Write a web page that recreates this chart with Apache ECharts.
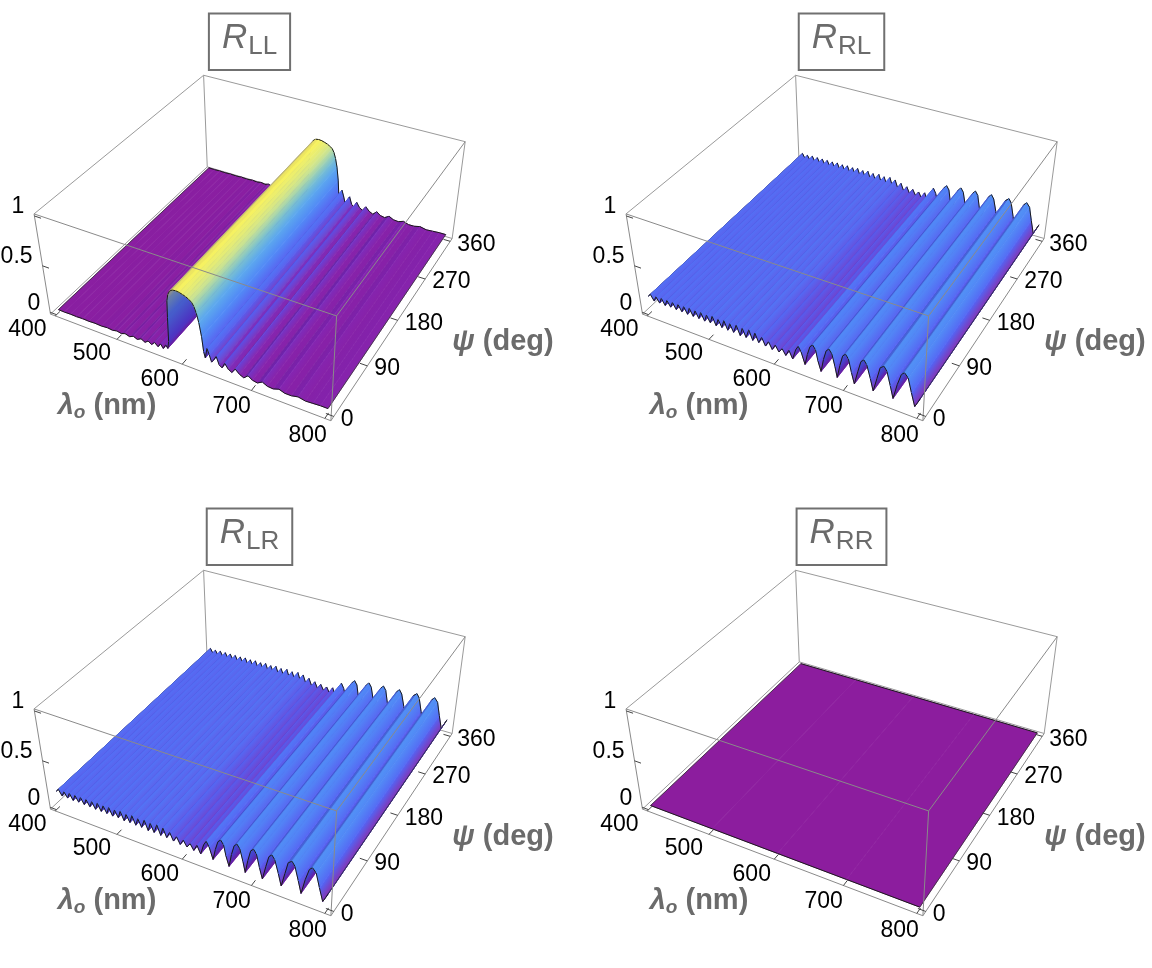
<!DOCTYPE html>
<html>
<head>
<meta charset="utf-8">
<title>Reflectance surfaces</title>
<script src="https://cdn.jsdelivr.net/npm/echarts@6.0.0/dist/echarts.min.js"></script>
<style>
html, body { margin: 0; padding: 0; background: #fff; }
#main { width: 1152px; height: 968px; }
</style>
</head>
<body>
<div id="main"></div>
<script>
// reflectance vs wavelength (every surface is flat along psi)
var llWave = [400, 410, 420, 430, 440, 450, 460, 470, 480,
    488, 495, 502, 508, 515, 521, 527, 533, 539,
    544, 549, 554, 559, 563, 567, 571, 574, 576,
    577, 578, 580, 583, 587, 592, 597, 602, 606,
    610, 614, 617, 620, 623, 626, 628, 630, 633,
    636, 639, 642, 646, 650, 654, 658, 663, 668,
    673, 679, 685, 691, 697, 704, 711, 718, 726,
    734, 742, 751, 760, 770, 780, 790, 800];
var llR = [0.012, 0.010, 0.012, 0.010, 0.013, 0.010, 0.014, 0.010, 0.016,
    0.010, 0.020, 0.010, 0.025, 0.010, 0.030, 0.012, 0.035, 0.012,
    0.040, 0.015, 0.050, 0.018, 0.060, 0.020, 0.070, 0.040, 0.120,
    0.380, 0.550, 0.620, 0.660, 0.680, 0.685, 0.680, 0.670, 0.660,
    0.645, 0.625, 0.590, 0.530, 0.440, 0.300, 0.150, 0.090, 0.200,
    0.140, 0.070, 0.100, 0.150, 0.070, 0.050, 0.110, 0.060, 0.040,
    0.090, 0.050, 0.030, 0.070, 0.040, 0.030, 0.060, 0.035, 0.030,
    0.050, 0.030, 0.030, 0.045, 0.030, 0.035, 0.040, 0.040];

var rlWave = [400, 404, 409, 413, 418, 422, 427, 431, 436, 440,
    445, 449, 454, 458, 463, 467, 472, 476, 481, 485,
    490, 494, 499, 503, 508, 512, 517, 521, 526, 530,
    535, 540, 545, 549, 554, 559, 564, 568, 573, 578,
    583, 588, 593, 598, 603, 608, 613, 618, 623, 628,
    632, 636, 641,
    645, 649, 653, 657, 660, 664,
    668, 672, 676, 680, 684, 687,
    691, 695, 699, 703, 707, 711,
    716, 720, 724, 728, 733, 737,
    742, 746, 751, 755, 760, 764,
    769, 774, 778, 783, 788, 793,
    797, 800];
var rlR = [0.16, 0.19, 0.13, 0.185, 0.13, 0.19, 0.125, 0.19, 0.13, 0.19,
    0.125, 0.19, 0.125, 0.19, 0.12, 0.195, 0.12, 0.19, 0.12, 0.195,
    0.115, 0.19, 0.12, 0.20, 0.11, 0.19, 0.115, 0.20, 0.11, 0.19,
    0.11, 0.20, 0.10, 0.19, 0.105, 0.20, 0.10, 0.19, 0.10, 0.17,
    0.09, 0.15, 0.08, 0.14, 0.08, 0.13, 0.07, 0.14, 0.06, 0.17,
    0.22, 0.17, 0.05,
    0.17, 0.26, 0.29, 0.25, 0.14, 0.04,
    0.18, 0.28, 0.31, 0.27, 0.15, 0.04,
    0.18, 0.29, 0.32, 0.28, 0.15, 0.04,
    0.19, 0.30, 0.33, 0.29, 0.16, 0.04,
    0.19, 0.31, 0.34, 0.30, 0.16, 0.04,
    0.20, 0.32, 0.35, 0.31, 0.17, 0.04,
    0.10, 0.15];

// LR reads the same as RL
var lrWave = rlWave;
var lrR = rlR;

var rrWave = [400, 500, 600, 700, 800];
var rrR = [0.002, 0.002, 0.002, 0.002, 0.002];

var panelSubs = ['LL', 'RL', 'LR', 'RR'];
var waveTicks = [400, 500, 600, 700, 800];
var psiTicks = [0, 90, 180, 270, 360];
var rTicks = [0, 0.5, 1];
var rTickText = ['0', '0.5', '1'];

// box ranges (2% padding round the data)
var waveRange = [392, 808];
var psiRange = [-7.2, 367.2];
var rRange = [-0.02, 1.02];

// ---------- camera: fit a perspective projection to the box of the first panel ----------
var offs = [[0, 0], [592, 0], [0, 495], [592, 495]];
var fitPts = [
    [0, 0, 0, 49.7, 313.3], [1, 0, 0, 329.7, 420], [1, 1, 0, 453, 237.5], [0, 1, 0, 206.7, 168],
    [0, 0, 1, 34, 213.3], [1, 0, 1, 337, 317], [1, 1, 1, 464.5, 141.7], [0, 1, 1, 204, 75],
    [0.2596, 0, 0, 118, 339.3], [0.5, 0, 0, 183, 364.3], [0.7404, 0, 0, 251.3, 391.7]
];

function solveLinear(M, v) {
    var n = v.length;
    var a = M.map(function (row, i) { return row.concat([v[i]]); });
    for (var c = 0; c < n; c++) {
        var p = c;
        for (var r = c + 1; r < n; r++) {
            if (Math.abs(a[r][c]) > Math.abs(a[p][c])) p = r;
        }
        var tmp = a[c]; a[c] = a[p]; a[p] = tmp;
        for (var r2 = 0; r2 < n; r2++) {
            if (r2 === c) continue;
            var f = a[r2][c] / a[c][c];
            for (var k = c; k <= n; k++) a[r2][k] -= f * a[c][k];
        }
    }
    return a.map(function (row, i) { return row[n] / row[i]; });
}

var P = (function () {
    var A = [], rhs = [];
    fitPts.forEach(function (q) {
        var X = q[0], Y = q[1], Z = q[2], x = q[3], y = q[4];
        A.push([X, Y, Z, 1, 0, 0, 0, 0, -x * X, -x * Y, -x * Z]); rhs.push(x);
        A.push([0, 0, 0, 0, X, Y, Z, 1, -y * X, -y * Y, -y * Z]); rhs.push(y);
    });
    var M = [], v = [];
    for (var j = 0; j < 11; j++) {
        M.push([]);
        var s = 0;
        for (var i = 0; i < A.length; i++) s += A[i][j] * rhs[i];
        v.push(s);
        for (var k = 0; k < 11; k++) {
            var t = 0;
            for (var i2 = 0; i2 < A.length; i2++) t += A[i2][j] * A[i2][k];
            M[j].push(t);
        }
    }
    return solveLinear(M, v);
})();

function project(panel, lam, psi, r) {
    var X = (lam - waveRange[0]) / (waveRange[1] - waveRange[0]);
    var Y = (psi - psiRange[0]) / (psiRange[1] - psiRange[0]);
    var Z = (r - rRange[0]) / (rRange[1] - rRange[0]);
    var w = P[8] * X + P[9] * Y + P[10] * Z + 1;
    return [
        (P[0] * X + P[1] * Y + P[2] * Z + P[3]) / w + offs[panel][0],
        (P[4] * X + P[5] * Y + P[6] * Z + P[7]) / w + offs[panel][1]
    ];
}

// ---------- colours ----------
var cmapStops = [[0, '#8c1d9d'], [0.05, '#8424b0'], [0.10, '#6040dc'], [0.16, '#4f54f0'],
    [0.22, '#4b66f4'], [0.30, '#4a7cf4'], [0.38, '#4e90f2'], [0.48, '#5eaee4'],
    [0.55, '#84c6bc'], [0.60, '#b4dc98'], [0.64, '#e0ec7c'], [0.685, '#fcf45a']];

function hexRgb(h) {
    return [parseInt(h.substr(1, 2), 16), parseInt(h.substr(3, 2), 16), parseInt(h.substr(5, 2), 16)];
}
function mix(a, b, t) {
    return [a[0] + (b[0] - a[0]) * t, a[1] + (b[1] - a[1]) * t, a[2] + (b[2] - a[2]) * t];
}
function rgbStr(c) {
    return 'rgb(' + Math.round(c[0]) + ',' + Math.round(c[1]) + ',' + Math.round(c[2]) + ')';
}
function cmap(z) {
    if (z <= cmapStops[0][0]) return hexRgb(cmapStops[0][1]);
    for (var i = 1; i < cmapStops.length; i++) {
        if (z <= cmapStops[i][0]) {
            var t = (z - cmapStops[i - 1][0]) / (cmapStops[i][0] - cmapStops[i - 1][0]);
            return mix(hexRgb(cmapStops[i - 1][1]), hexRgb(cmapStops[i][1]), t);
        }
    }
    return hexRgb(cmapStops[cmapStops.length - 1][1]);
}
function shade(c, t, z) {
    // t > 0: face rising with wavelength (turned away from the viewer), t < 0: facing the viewer
    if (t > 0) return mix(c, [56, 26, 150], 0.42 * t);
    var k = Math.max(0, Math.min(1, (z - 0.03) / 0.12));
    return mix(c, [110, 186, 255], 0.22 * (-t) * k);
}

// ---------- series ----------
function surfaceSeries(panel, wave, R) {
    var data = [];
    for (var i = 0; i < wave.length - 1; i++) {
        data.push([wave[i], wave[i + 1], R[i], R[i + 1], i]);
    }
    var last = wave.length - 2;
    return {
        type: 'custom',
        coordinateSystem: 'none',
        silent: true,
        z: 2,
        clip: false,
        data: data,
        renderItem: function (params, api) {
            var l0 = api.value(0), l1 = api.value(1), r0 = api.value(2), r1 = api.value(3), idx = api.value(4);
            var a = project(panel, l0, 0, r0), b = project(panel, l1, 0, r1);
            var c = project(panel, l1, 360, r1), d = project(panel, l0, 360, r0);
            var m0 = project(panel, l0, 180, r0), m1 = project(panel, l1, 180, r1);
            var g = ((r1 - r0) / (rRange[1] - rRange[0]) * 0.4) / ((l1 - l0) / (waveRange[1] - waveRange[0]));
            var t = g / Math.sqrt(1 + g * g);
            var zm = (r0 + r1) / 2;
            var s0 = shade(cmap(r0), t, zm), s1 = shade(cmap(r1), t, zm);
            // gradient runs across the strip, so its colour bands stay parallel to the psi direction
            var ex = (d[0] - a[0] + c[0] - b[0]) / 2, ey = (d[1] - a[1] + c[1] - b[1]) / 2;
            var el = Math.sqrt(ex * ex + ey * ey) || 1;
            var nx = -ey / el, ny = ex / el;
            var proj = (m1[0] - m0[0]) * nx + (m1[1] - m0[1]) * ny;
            var fill;
            if (Math.abs(proj) < 0.3) {
                fill = rgbStr(mix(s0, s1, 0.5));
            } else {
                fill = new echarts.graphic.LinearGradient(m0[0], m0[1], m0[0] + nx * proj, m0[1] + ny * proj,
                    [{ offset: 0, color: rgbStr(s0) }, { offset: 1, color: rgbStr(s1) }], true);
            }
            var kids = [
                { type: 'polygon', shape: { points: [a, b, c, d] }, style: { fill: fill, stroke: fill, lineWidth: 0.7 } },
                { type: 'line', shape: { x1: a[0], y1: a[1], x2: b[0], y2: b[1] }, style: { stroke: '#1a1a1a', lineWidth: 1 } },
                { type: 'line', shape: { x1: d[0], y1: d[1], x2: c[0], y2: c[1] }, style: { stroke: '#1a1a1a', lineWidth: 1 } }
            ];
            if (idx === 0) {
                kids.push({ type: 'line', shape: { x1: a[0], y1: a[1], x2: d[0], y2: d[1] }, style: { stroke: '#333', lineWidth: 0.8 } });
            }
            if (idx === last) {
                kids.push({ type: 'line', shape: { x1: b[0], y1: b[1], x2: c[0], y2: c[1] }, style: { stroke: '#333', lineWidth: 0.8 } });
            }
            return { type: 'group', children: kids };
        }
    };
}

function corner(panel, i, j, k) {
    return project(panel, waveRange[i], psiRange[j], rRange[k]);
}
function edgeLines(panel, list, color) {
    return list.map(function (e) {
        var p = corner(panel, e[0], e[1], e[2]), q = corner(panel, e[3], e[4], e[5]);
        return { type: 'line', shape: { x1: p[0], y1: p[1], x2: q[0], y2: q[1] }, style: { stroke: color, lineWidth: 1 } };
    });
}
var backEdges = [[0, 0, 0, 0, 1, 0], [0, 1, 0, 1, 1, 0], [0, 1, 0, 0, 1, 1],
    [0, 0, 1, 0, 1, 1], [0, 1, 1, 1, 1, 1], [1, 1, 1, 1, 1, 0]];
var frontEdges = [[0, 0, 0, 1, 0, 0], [1, 0, 0, 1, 1, 0], [0, 0, 1, 1, 0, 1],
    [1, 0, 1, 1, 1, 1], [1, 0, 1, 1, 0, 0], [0, 0, 1, 0, 0, 0]];

var boxBack = {
    type: 'custom', coordinateSystem: 'none', silent: true, z: 1, clip: false,
    data: [[0], [1], [2], [3]],
    renderItem: function (params, api) {
        return { type: 'group', children: edgeLines(api.value(0), backEdges, '#9a9a9a') };
    }
};

var tickFont = '23px "Liberation Sans", Arial, sans-serif';
var boxFront = {
    type: 'custom', coordinateSystem: 'none', silent: true, z: 3, clip: false,
    data: [[0], [1], [2], [3]],
    renderItem: function (params, api) {
        var pn = api.value(0);
        var kids = edgeLines(pn, frontEdges, '#8a8a8a');
        var dPsi = 0.025 * (psiRange[1] - psiRange[0]);
        var dLam = 0.025 * (waveRange[1] - waveRange[0]);
        waveTicks.forEach(function (w) {
            var p = project(pn, w, psiRange[0], rRange[0]), q = project(pn, w, psiRange[0] + dPsi, rRange[0]);
            var X = (w - waveRange[0]) / (waveRange[1] - waveRange[0]);
            kids.push({ type: 'line', shape: { x1: p[0], y1: p[1], x2: q[0], y2: q[1] }, style: { stroke: '#444', lineWidth: 1 } });
            kids.push({ type: 'text', x: p[0] - 28 + 11 * X, y: p[1] + 14 + 3 * X,
                style: { text: String(w), font: tickFont, fill: '#000', align: 'center', verticalAlign: 'middle' } });
        });
        psiTicks.forEach(function (s) {
            var p = project(pn, waveRange[1], s, rRange[0]), q = project(pn, waveRange[1] - dLam, s, rRange[0]);
            kids.push({ type: 'line', shape: { x1: p[0], y1: p[1], x2: q[0], y2: q[1] }, style: { stroke: '#444', lineWidth: 1 } });
            kids.push({ type: 'text', x: p[0] + 7, y: p[1] + 3,
                style: { text: String(s), font: tickFont, fill: '#000', align: 'left', verticalAlign: 'middle' } });
        });
        rTicks.forEach(function (z, i) {
            var p = project(pn, waveRange[0], psiRange[0], z), q = project(pn, waveRange[0] + dLam, psiRange[0], z);
            kids.push({ type: 'line', shape: { x1: p[0], y1: p[1], x2: q[0], y2: q[1] }, style: { stroke: '#444', lineWidth: 1 } });
            kids.push({ type: 'text', x: p[0] - 10, y: p[1] - 9,
                style: { text: rTickText[i], font: tickFont, fill: '#000', align: 'right', verticalAlign: 'middle' } });
        });
        return { type: 'group', children: kids };
    }
};

// ---------- titles and axis names ----------
var measureCtx = document.createElement('canvas').getContext('2d');
function textWidth(str, font) {
    measureCtx.font = font;
    return measureCtx.measureText(str).width;
}
var gray = '#6b6b6b';
var fBig = 'italic 35px "Liberation Sans", Arial, sans-serif';
var fSub = '26px "Liberation Sans", Arial, sans-serif';
var fAxis = 'bold 29px "Liberation Sans", Arial, sans-serif';
var fAxisI = 'italic bold 29px "Liberation Sans", Arial, sans-serif';
var fAxisS = 'italic bold 19px "Liberation Sans", Arial, sans-serif';

var graphics = [];
panelSubs.forEach(function (sub, pn) {
    var ox = offs[pn][0], oy = offs[pn][1];
    var wR = textWidth('R', fBig), wS = textWidth(sub, fSub);
    var tw = wR + 1 + wS, bw = tw + 26, cx = ox + 249.5;
    graphics.push({ type: 'rect', shape: { x: cx - bw / 2, y: oy + 13.5, width: bw, height: 56.5 },
        style: { fill: '#fff', stroke: '#707070', lineWidth: 2 } });
    graphics.push({ type: 'text', x: cx - tw / 2, y: oy + 38, style: { text: 'R', font: fBig, fill: gray, verticalAlign: 'middle' } });
    graphics.push({ type: 'text', x: cx - tw / 2 + wR + 1, y: oy + 46.5, style: { text: sub, font: fSub, fill: gray, verticalAlign: 'middle' } });

    // wavelength axis name
    var w1 = textWidth('\u03bb', fAxisI), w2 = textWidth('o', fAxisS), w3 = textWidth(' (nm)', fAxis);
    var lx = ox + 107 - (w1 + w2 + w3) / 2, ly = oy + 406;
    graphics.push({ type: 'text', x: lx, y: ly, style: { text: '\u03bb', font: fAxisI, fill: gray, verticalAlign: 'middle' } });
    graphics.push({ type: 'text', x: lx + w1, y: ly + 7, style: { text: 'o', font: fAxisS, fill: gray, verticalAlign: 'middle' } });
    graphics.push({ type: 'text', x: lx + w1 + w2, y: ly, style: { text: ' (nm)', font: fAxis, fill: gray, verticalAlign: 'middle' } });

    // psi axis name
    var p1 = textWidth('\u03c8', fAxisI), p2 = textWidth(' (deg)', fAxis);
    var px = ox + 503 - (p1 + p2) / 2, py = oy + 342;
    graphics.push({ type: 'text', x: px, y: py, style: { text: '\u03c8', font: fAxisI, fill: gray, verticalAlign: 'middle' } });
    graphics.push({ type: 'text', x: px + p1, y: py, style: { text: ' (deg)', font: fAxis, fill: gray, verticalAlign: 'middle' } });
});

var chart = echarts.init(document.getElementById('main'), null, { renderer: 'canvas' });
chart.setOption({
    backgroundColor: '#fff',
    animation: false,
    graphic: graphics,
    series: [
        boxBack,
        surfaceSeries(0, llWave, llR),
        surfaceSeries(1, rlWave, rlR),
        surfaceSeries(2, lrWave, lrR),
        surfaceSeries(3, rrWave, rrR),
        boxFront
    ]
});
</script>
</body>
</html>
